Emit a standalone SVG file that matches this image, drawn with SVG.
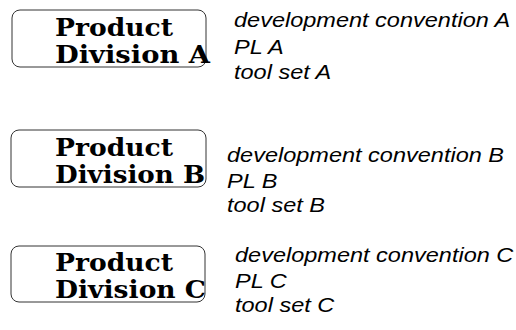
<svg xmlns="http://www.w3.org/2000/svg" width="516" height="330" viewBox="0 0 516 330">
  <style>
    .box { fill: #ffffff; stroke: #333333; stroke-width: 1; }
    .title { font-family: "DejaVu Serif", "Liberation Serif", serif; font-weight: bold; font-size: 25px; fill: #000000; }
    .note { font-family: "Liberation Sans", Arial, sans-serif; font-style: italic; font-size: 21px; fill: #000000; }
  </style>
  <rect width="516" height="330" fill="#ffffff"/>

  <!-- Product Division A -->
  <g id="division-a">
    <rect class="box" x="12" y="10" width="194" height="57" rx="8" ry="8"/>
    <text class="title" x="55" y="36" textLength="118" lengthAdjust="spacingAndGlyphs">Product</text>
    <text class="title" x="55" y="63" textLength="155" lengthAdjust="spacingAndGlyphs">Division A</text>
  </g>
  <g id="notes-a" transform="translate(234,0) scale(1.12,1)">
    <text class="note" x="0" y="27">development convention A</text>
    <text class="note" x="0" y="54">PL A</text>
    <text class="note" x="0" y="79">tool set A</text>
  </g>

  <!-- Product Division B -->
  <g id="division-b">
    <rect class="box" x="11" y="130" width="195" height="57" rx="8" ry="8"/>
    <text class="title" x="55" y="156" textLength="118" lengthAdjust="spacingAndGlyphs">Product</text>
    <text class="title" x="55" y="183" textLength="150" lengthAdjust="spacingAndGlyphs">Division B</text>
  </g>
  <g id="notes-b" transform="translate(227,0) scale(1.12,1)">
    <text class="note" x="0" y="162">development convention B</text>
    <text class="note" x="0" y="188">PL B</text>
    <text class="note" x="0" y="212">tool set B</text>
  </g>

  <!-- Product Division C -->
  <g id="division-c">
    <rect class="box" x="11" y="246" width="194" height="56" rx="8" ry="8"/>
    <text class="title" x="55" y="271" textLength="118" lengthAdjust="spacingAndGlyphs">Product</text>
    <text class="title" x="55" y="298" textLength="151" lengthAdjust="spacingAndGlyphs">Division C</text>
  </g>
  <g id="notes-c" transform="translate(235,0) scale(1.12,1)">
    <text class="note" x="0" y="262">development convention C</text>
    <text class="note" x="0" y="288">PL C</text>
    <text class="note" x="0" y="312">tool set C</text>
  </g>

  <g id="connectors"></g>
</svg>
